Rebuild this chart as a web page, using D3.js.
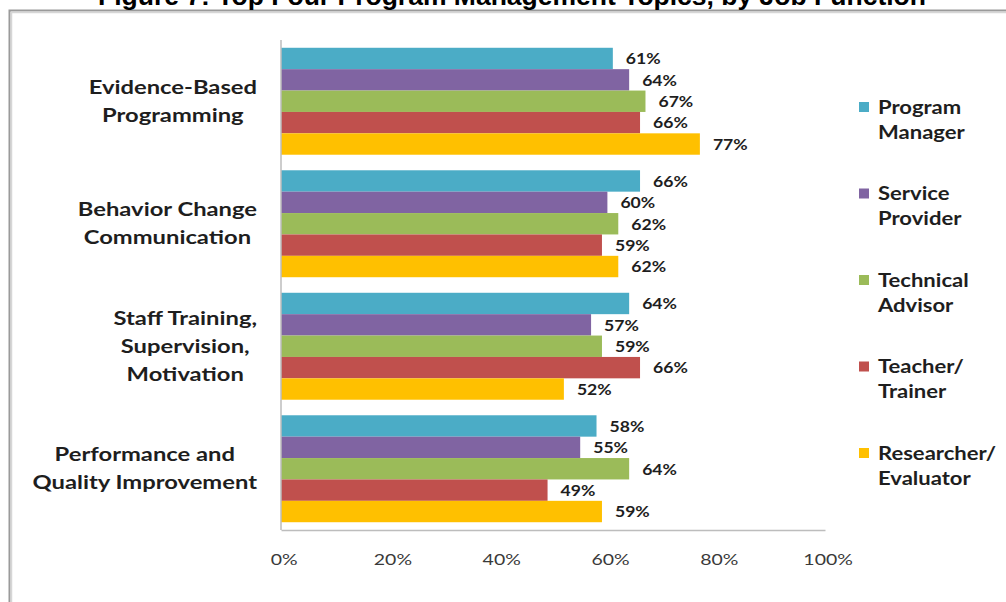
<!DOCTYPE html>
<html>
<head>
<meta charset="utf-8">
<script src="https://cdn.jsdelivr.net/npm/d3@7"></script>
<style>
  html, body { margin: 0; padding: 0; background: #fff; }
  svg { display: block; }
</style>
</head>
<body>
<svg id="chart" width="1006" height="602"></svg>
<script>
// Survey results: share of respondents choosing each topic, by job function
const title = "Figure 7: Top Four Program Management Topics, by Job Function";
const topics = [
  ["Evidence-Based", "Programming"],
  ["Behavior Change", "Communication"],
  ["Staff Training,", "Supervision,", "Motivation"],
  ["Performance and", "Quality Improvement"]
];
const roles = [
  ["Program", "Manager"],
  ["Service", "Provider"],
  ["Technical", "Advisor"],
  ["Teacher/", "Trainer"],
  ["Researcher/", "Evaluator"]
];
const roleColors = ["#4bacc6", "#8064a2", "#9bbb59", "#c0504d", "#ffc000"];
const programManager   = [61, 66, 64, 58];
const serviceProvider  = [64, 60, 57, 55];
const technicalAdvisor = [67, 62, 59, 64];
const teacherTrainer   = [66, 59, 66, 49];
const researcherEval   = [77, 62, 52, 59];
const xTicks = [0, 20, 40, 60, 80, 100];

const series = [programManager, serviceProvider, technicalAdvisor, teacherTrainer, researcherEval];
const rows = topics.map((t, i) => ({
  topic: t,
  values: series.map((s, j) => ({ role: j, value: s[i] }))
}));

const svg = d3.select("#chart");
const font = "Lato, 'Open Sans', sans-serif";
const ink = "#1e1e1e";

// Outer frame
svg.append("rect")
  .attr("x", 9.5).attr("y", 10.5).attr("width", 1100).attr("height", 800)
  .attr("fill", "none").attr("stroke", "#9a9a9a").attr("stroke-width", 2);
svg.append("rect")
  .attr("x", 11.5).attr("y", 12.5).attr("width", 1100).attr("height", 800)
  .attr("fill", "none").attr("stroke", "#d6d6d6").attr("stroke-width", 1.5);

// Title
svg.append("text")
  .attr("x", 512).attr("y", 5)
  .attr("text-anchor", "middle")
  .attr("font-family", "'Liberation Sans', Arial, sans-serif")
  .attr("font-weight", "bold")
  .attr("font-size", 26.5)
  .attr("fill", "#000")
  .text(title);

const plot = { left: 281, right: 825, top: 40, bottom: 530 };

const x = d3.scaleLinear().domain([0, 100]).range([plot.left, plot.right]);
const y0 = d3.scaleBand()
  .domain(d3.range(topics.length))
  .range([plot.top, plot.bottom])
  .paddingInner(0.127)
  .paddingOuter(0.0635);
const y1 = d3.scaleBand()
  .domain(d3.range(roles.length))
  .range([0, y0.bandwidth()])
  .padding(0);

// Bars
const groups = svg.append("g").selectAll("g")
  .data(rows)
  .join("g")
  .attr("transform", (d, i) => `translate(0,${y0(i)})`);

groups.selectAll("rect")
  .data(d => d.values)
  .join("rect")
  .attr("x", x(0))
  .attr("y", d => y1(d.role))
  .attr("width", d => x(d.value) - x(0))
  .attr("height", y1.bandwidth())
  .attr("fill", d => roleColors[d.role]);

// Value labels (the lettering is drawn slightly wide)
groups.selectAll("g.val")
  .data(d => d.values)
  .join("g")
  .attr("class", "val")
  .attr("transform", d => `translate(${x(d.value) + 13},${y1(d.role) + y1.bandwidth() / 2}) scale(1.1,1)`)
  .append("text")
  .attr("dy", "0.36em")
  .attr("font-family", font)
  .attr("font-weight", "bold")
  .attr("font-size", 16)
  .attr("fill", ink)
  .text(d => d.value + "%");

// Axes
const xAxis = d3.axisBottom(x).tickValues(xTicks).tickSize(0).tickFormat(d => d + "%");
const gx = svg.append("g")
  .attr("transform", `translate(0,${plot.bottom})`)
  .call(xAxis);
gx.select(".domain").attr("stroke", "#bdbdbd").attr("stroke-width", 1.5);
gx.selectAll("text")
  .attr("dy", 0)
  .attr("y", 35)
  .attr("x", 2)
  .attr("transform", "scale(1.3,1)")
  .attr("font-family", font)
  .attr("font-size", 15)
  .attr("fill", "#3a3a3a");

svg.append("line")
  .attr("x1", plot.left).attr("x2", plot.left)
  .attr("y1", plot.top).attr("y2", plot.bottom)
  .attr("stroke", "#bdbdbd").attr("stroke-width", 1.5);

// Category labels: each block right-aligned, lines centred inside the block
const catRight = 257;
const catLineH = 28;
const catScale = 1.25;
topics.forEach((lines, i) => {
  const cy = y0(i) + y0.bandwidth() / 2;
  const g = svg.append("g");
  const t = g.append("text")
    .attr("font-family", font)
    .attr("font-weight", "bold")
    .attr("font-size", 19)
    .attr("fill", ink)
    .attr("text-anchor", "middle");
  const spans = lines.map((ln, k) => t.append("tspan")
    .attr("x", 0)
    .attr("y", (k - (lines.length - 1) / 2) * catLineH)
    .attr("dy", "0.35em")
    .text(ln));
  const maxW = d3.max(spans, s => s.node().getComputedTextLength()) * catScale;
  g.attr("transform", `translate(${catRight - maxW / 2},${cy}) scale(${catScale},1)`);
});

// Legend
const legend = svg.append("g");
roles.forEach((lines, j) => {
  const ly = 107 + j * 86.5;
  legend.append("rect")
    .attr("x", 859).attr("y", ly - 5)
    .attr("width", 10).attr("height", 10)
    .attr("fill", roleColors[j]);
  const t = legend.append("g")
    .attr("transform", `translate(878,${ly}) scale(1.16,1)`)
    .append("text")
    .attr("font-family", font)
    .attr("font-weight", "bold")
    .attr("font-size", 19)
    .attr("fill", ink);
  lines.forEach((ln, k) => t.append("tspan")
    .attr("x", 0)
    .attr("y", k * 25)
    .attr("dy", "0.35em")
    .text(ln));
});
</script>
</body>
</html>
